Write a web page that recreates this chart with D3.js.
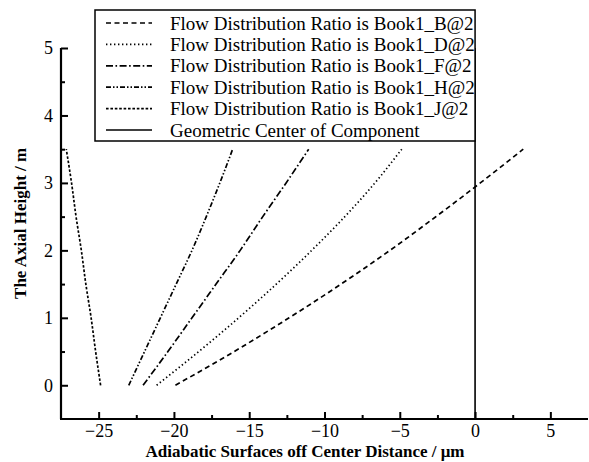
<!DOCTYPE html>
<html><head><meta charset="utf-8">
<script src="https://cdn.jsdelivr.net/npm/d3@7"></script>
<style>body{margin:0;background:#fff}svg{display:block}svg text{font-family:"Liberation Serif","Times New Roman",Times,"DejaVu Serif",serif}</style>
</head><body>
<svg id="c" width="589" height="462"></svg>
<script>
const heights = [0, 0.5, 1, 1.5, 2, 2.5, 3, 3.5];
const seriesNames = [
  "Flow Distribution Ratio is Book1_B@2",
  "Flow Distribution Ratio is Book1_D@2",
  "Flow Distribution Ratio is Book1_F@2",
  "Flow Distribution Ratio is Book1_H@2",
  "Flow Distribution Ratio is Book1_J@2"
];
const seriesB = [-19.9, -16.0, -12.35, -8.9, -5.65, -2.6, 0.35, 3.2];
const seriesD = [-21.15, -18.35, -15.7, -13.2, -10.85, -8.65, -6.65, -4.87];
const seriesF = [-22.05, -20.4, -18.8, -17.2, -15.6, -14.1, -12.55, -11.05];
const seriesH = [-23.0, -21.95, -20.9, -19.85, -18.8, -17.85, -16.95, -16.1];
const seriesJ = [-24.87, -25.2, -25.5, -25.85, -26.15, -26.5, -26.8, -27.15];
const centerName = "Geometric Center of Component";
const centerX = 0;
const xTicks = [-25, -20, -15, -10, -5, 0, 5];
const yTicks = [0, 1, 2, 3, 4, 5];
const xLabel = "Adiabatic Surfaces off Center Distance / μm";
const yLabel = "The Axial Height / m";

const dashes = ["5,3.5", "1.4,2.6", "7,2.5,1.6,2.5", "5,2,1.5,2,1.5,2", "2.6,1.8"];
const allSeries = [seriesB, seriesD, seriesF, seriesH, seriesJ];

const svg = d3.select("#c");
const x = d3.scaleLinear().domain([-27.5, 7.5]).range([61, 588]);
const y = d3.scaleLinear().domain([-0.5, 5]).range([419, 48]);

// center line
svg.append("line").attr("x1", x(centerX)).attr("x2", x(centerX))
  .attr("y1", y(-0.5)).attr("y2", y(5)).attr("stroke", "#000").attr("stroke-width", 1.6);

// series
const line = d3.line().x(d => x(d[0])).y(d => y(d[1])).curve(d3.curveMonotoneY);
allSeries.forEach((s, i) => {
  svg.append("path").datum(s.map((v, j) => [v, heights[j]]))
    .attr("d", line).attr("fill", "none").attr("stroke", "#000")
    .attr("stroke-width", 1.7).attr("stroke-dasharray", dashes[i]);
});

// axes
const fmt = d => (d < 0 ? "\u2212" + Math.abs(d) : "" + d);
const xAxis = svg.append("g").attr("transform", `translate(0,${y(-0.5)})`)
  .call(d3.axisBottom(x).tickValues(xTicks).tickSize(-7).tickSizeOuter(0).tickPadding(5).tickFormat(fmt));
const xMinor = svg.append("g").attr("transform", `translate(0,${y(-0.5)})`)
  .call(d3.axisBottom(x).tickValues([-22.5, -17.5, -12.5, -7.5, -2.5, 2.5]).tickSize(-4).tickSizeOuter(0).tickFormat(""));
const yAxis = svg.append("g").attr("transform", `translate(${x(-27.5)},0)`)
  .call(d3.axisLeft(y).tickValues(yTicks).tickSize(-7).tickSizeOuter(0).tickPadding(8).tickFormat(fmt));
const yMinor = svg.append("g").attr("transform", `translate(${x(-27.5)},0)`)
  .call(d3.axisLeft(y).tickValues([0.5, 1.5, 2.5, 3.5, 4.5]).tickSize(-4).tickSizeOuter(0).tickFormat(""));
[xAxis, xMinor, yAxis, yMinor].forEach(g => {
  g.attr("font-family", null);
  g.select(".domain").attr("stroke", "#000").attr("stroke-width", 2.2);
  g.selectAll(".tick line").attr("stroke", "#000").attr("stroke-width", 2);
  g.selectAll("text").attr("font-size", 18).attr("fill", "#000");
});
xMinor.select(".domain").remove();
yMinor.select(".domain").remove();
xAxis.select(".domain").attr("d", `M${x(-27.5) - 1},0H${x(7.5)}`);
yAxis.select(".domain").attr("d", `M0,${y(-0.5)}V${y(5)}`);

// axis titles
svg.append("text").attr("x", 305).attr("y", 457).attr("text-anchor", "middle")
  .attr("font-weight", "bold").attr("font-size", 17).text(xLabel);
svg.append("text").attr("transform", `translate(26,${y(2.4)}) rotate(-90)`).attr("text-anchor", "middle")
  .attr("font-weight", "bold").attr("font-size", 17).text(yLabel);

// legend
const lg = svg.append("g");
lg.append("rect").attr("x", 95).attr("y", 10).attr("width", x(0) - 95).attr("height", 131)
  .attr("fill", "#fff").attr("stroke", "#000").attr("stroke-width", 1.5);
const names = seriesNames.concat([centerName]);
const dd = dashes.concat([null]);
names.forEach((n, i) => {
  const cy = 23 + i * 21.4;
  lg.append("line").attr("x1", 106).attr("x2", 152).attr("y1", cy).attr("y2", cy)
    .attr("stroke", "#000").attr("stroke-width", 1.7).attr("stroke-dasharray", dd[i]);
  lg.append("text").attr("x", 170).attr("y", cy + 6.5)
    .attr("font-size", 19).text(n);
});
</script>
</body></html>
